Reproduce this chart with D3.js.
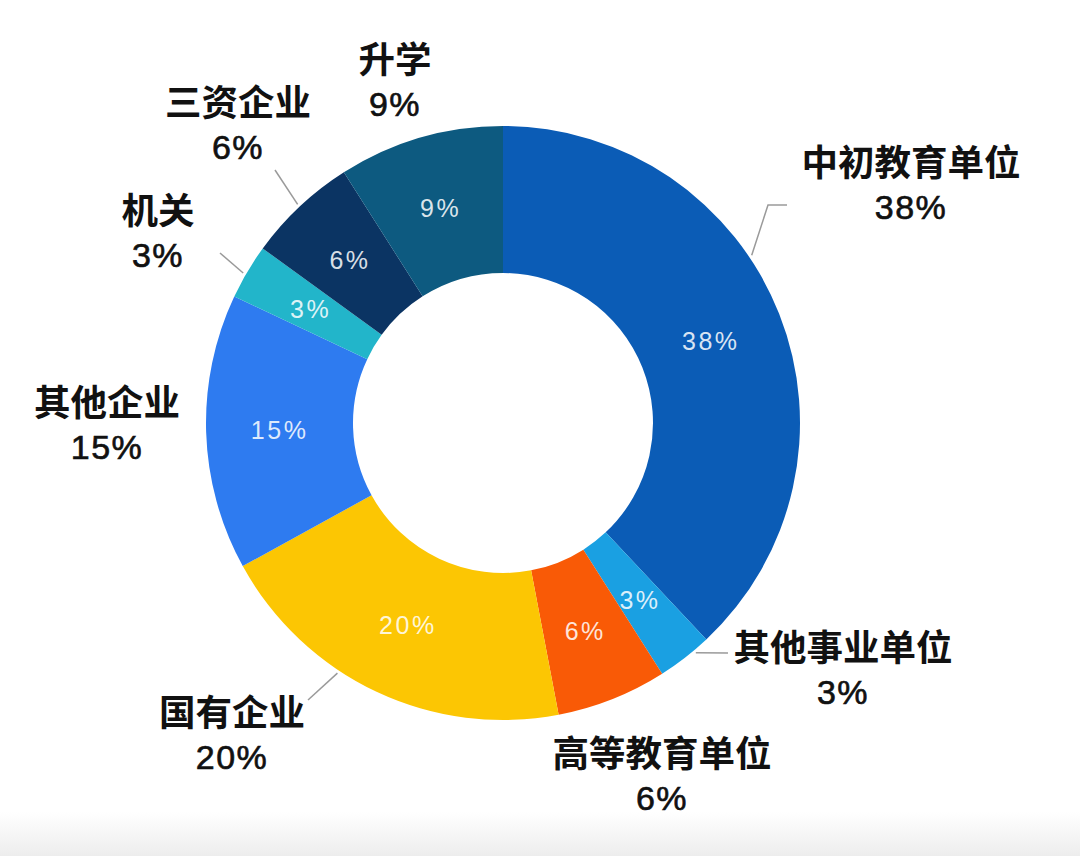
<!DOCTYPE html>
<html lang="zh">
<head>
    <meta charset="UTF-8">
    <script src="https://d3js.org/d3.v7.min.js"></script>
    <title>毕业去向</title>
    <style>
        html, body { margin: 0; padding: 0; background: #fff; }
        svg { display: block; }
    </style>
</head>
<body>
    <div class="fig"></div>
    <script>
        // data, clockwise from 12 o'clock
        const categories = ["中初教育单位", "其他事业单位", "高等教育单位", "国有企业", "其他企业", "机关", "三资企业", "升学"];
        const values = [38, 3, 6, 20, 15, 3, 6, 9];
        const colors = ["#0b5cb6", "#1aa0e2", "#f95a06", "#fcc603", "#2e7bf0", "#22b5ca", "#0b3463", "#0d5a80"];

        // layout: where the outside labels sit (x, baseline of the % line)
        const labelAt = [[911, 219], [843, 704], [662, 810], [232, 769], [107, 459], [158, 267], [238, 159], [395, 116]];
        // leader lines: start angle on the ring (deg), then the path to the label
        const leaders = [
            { i: 0, angle: 56, pts: [[768, 205], [787, 205]] },
            { i: 1, angle: 140, pts: [[728, 653]] },
            { i: 3, angle: 213.5, pts: [[308, 700]] },
            { i: 5, angle: 300, pts: [[220, 253]] },
            { i: 6, angle: 316.8, pts: [[275, 170]] }
        ];

        const width = 1080, height = 856;
        const cx = 503, cy = 423;
        const outerR = 297, innerR = 150;

        const svg = d3.select(".fig").append("svg")
            .attr("width", width)
            .attr("height", height);

        // faint grey fade at the bottom edge of the screenshot
        const grad = svg.append("defs").append("linearGradient")
            .attr("id", "fade").attr("x1", 0).attr("y1", 0).attr("x2", 0).attr("y2", 1);
        grad.append("stop").attr("offset", "0%").attr("stop-color", "#ffffff");
        grad.append("stop").attr("offset", "100%").attr("stop-color", "#ededed");
        svg.append("rect")
            .attr("x", 0).attr("y", 812).attr("width", width).attr("height", height - 812)
            .attr("fill", "url(#fade)");

        const pie = d3.pie().sort(null).value(d => d);
        const arcs = pie(values);

        const arc = d3.arc().innerRadius(innerR).outerRadius(outerR);

        const g = svg.append("g").attr("transform", `translate(${cx},${cy})`);

        g.selectAll("path")
            .data(arcs)
            .enter()
            .append("path")
            .attr("d", arc)
            .attr("fill", (d, i) => colors[i]);

        // percentages inside the ring
        g.selectAll("text.inner")
            .data(arcs)
            .enter()
            .append("text")
            .attr("class", "inner")
            .attr("x", d => arc.centroid(d)[0])
            .attr("y", d => arc.centroid(d)[1] + 9)
            .attr("text-anchor", "middle")
            .attr("font-family", "'Liberation Sans', 'Noto Sans', sans-serif")
            .attr("font-size", 25)
            .attr("letter-spacing", 2.5)
            .attr("fill", "#ffffff")
            .attr("fill-opacity", 0.85)
            .text(d => d.data + "%");

        // leader lines
        const ringPoint = (deg, r) => {
            const a = deg * Math.PI / 180;
            return [cx + r * Math.sin(a), cy - r * Math.cos(a)];
        };
        const line = d3.line();
        svg.selectAll("path.leader")
            .data(leaders)
            .enter()
            .append("path")
            .attr("class", "leader")
            .attr("d", d => line([ringPoint(d.angle, outerR + 3)].concat(d.pts)))
            .attr("fill", "none")
            .attr("stroke", "#9a9a9a")
            .attr("stroke-width", 1.5);

        // outside labels
        const labels = svg.selectAll("g.label")
            .data(arcs)
            .enter()
            .append("g")
            .attr("class", "label")
            .attr("transform", (d, i) => `translate(${labelAt[i][0]},${labelAt[i][1]})`)
            .attr("text-anchor", "middle")
            .attr("fill", "#111");

        labels.append("text")
            .attr("y", -43)
            .attr("font-family", "'Noto Sans CJK SC', sans-serif")
            .attr("font-weight", 700)
            .attr("font-size", 36.5)
            .text((d, i) => categories[i]);

        labels.append("text")
            .attr("y", 0)
            .attr("font-family", "'Liberation Sans', 'Noto Sans', sans-serif")
            .attr("font-weight", 400)
            .attr("font-size", 34)
            .attr("letter-spacing", 1.5)
            .style("paint-order", "stroke")
            .attr("stroke", "#111")
            .attr("stroke-width", 0.65)
            .text(d => d.data + "%");
    </script>
</body>
</html>
